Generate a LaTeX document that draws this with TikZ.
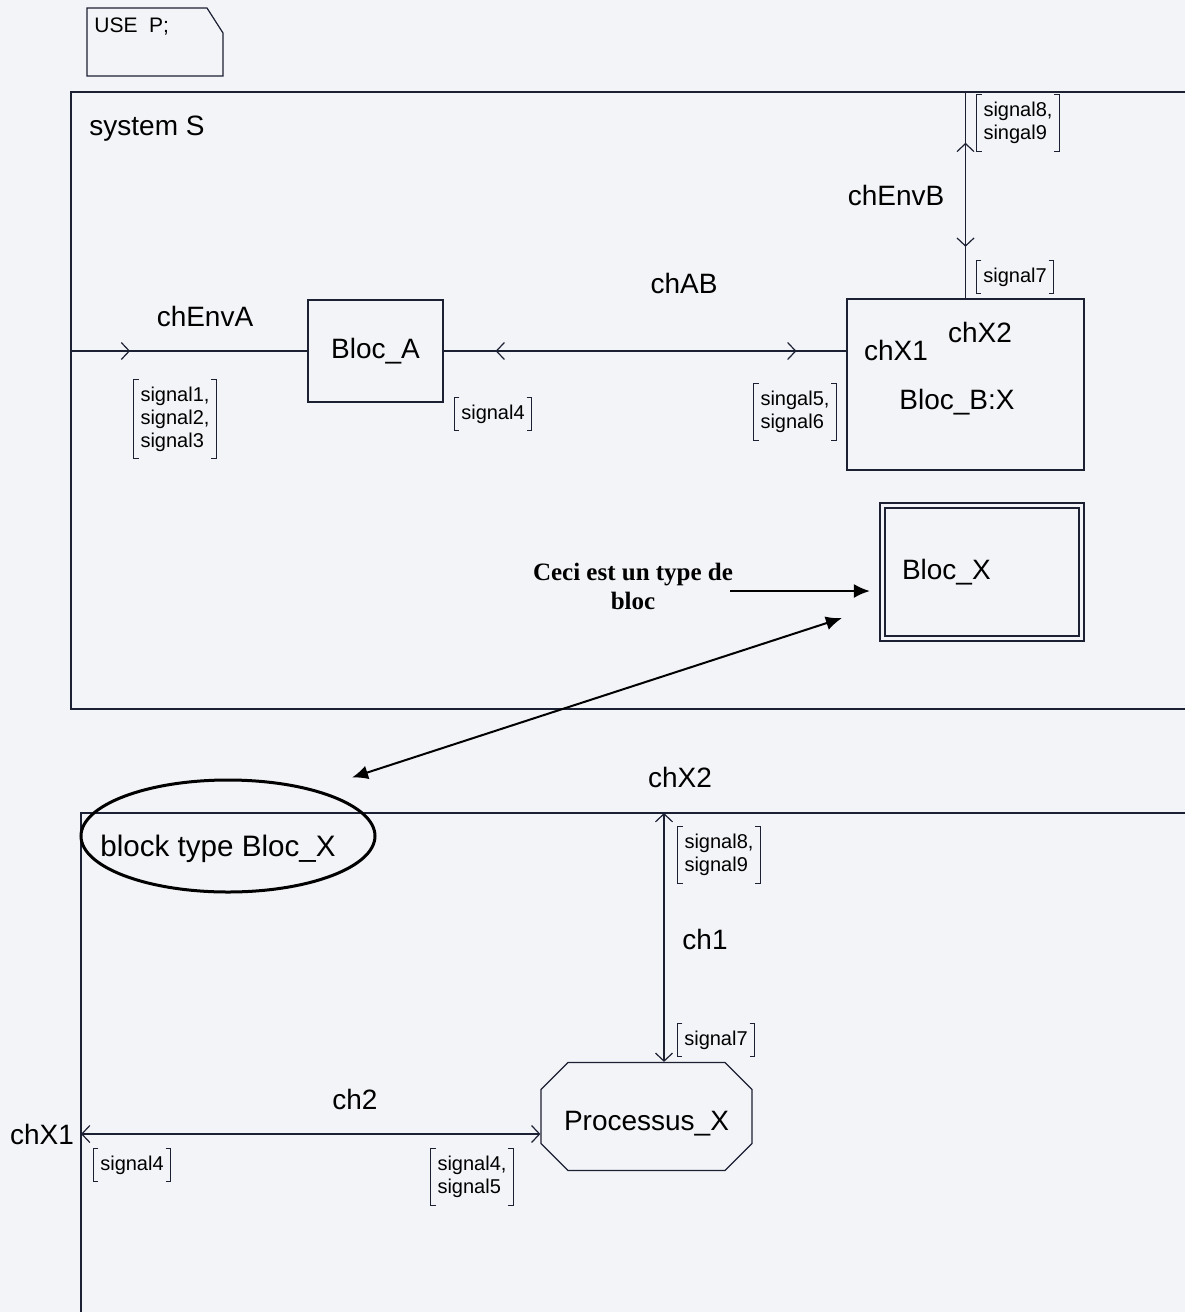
\documentclass[tikz,border=0pt]{standalone}
\usepackage{fontspec}
\setmainfont{Liberation Sans}
\newfontfamily\notefont{Liberation Serif}
\usetikzlibrary{arrows.meta,calc,positioning,shapes.geometric,shapes.misc,decorations.markings}
\definecolor{paperGray}{HTML}{F3F4F8}
\definecolor{inkBlue}  {HTML}{1C2033}
\tikzset{
  font=\fontsize{14}{16}\selectfont,
  sdlbarb/.tip={Straight Barb[length=4pt,width=8.5pt]},
  frame/.style={draw=inkBlue,line width=0.6pt},
  chan/.style={draw=inkBlue,line width=0.6pt},
  tipfwd/.style={postaction={decorate,decoration={markings,mark=at position #1 with {\arrow{sdlbarb}}}}},
  tipback/.style={postaction={decorate,decoration={markings,mark=at position #1 with {\arrowreversed{sdlbarb}}}}},
  bloc/.style={rectangle,draw=inkBlue,line width=0.6pt,inner sep=0pt,align=center},
  chlabel/.style={inner sep=1pt,font=\fontsize{14}{16}\selectfont},
  sigbox/.style={rectangle,inner xsep=4pt,inner ysep=4pt,align=left,
    font=\fontsize{10}{11.5}\selectfont,
    path picture={\draw[inkBlue,line width=0.5pt]
      ([shift={(3pt,-0.4pt)}]path picture bounding box.north west) -- ([shift={(0.4pt,-0.4pt)}]path picture bounding box.north west)
        -- ([shift={(0.4pt,0.4pt)}]path picture bounding box.south west) -- ([shift={(3pt,0.4pt)}]path picture bounding box.south west)
      ([shift={(-3pt,-0.4pt)}]path picture bounding box.north east) -- ([shift={(-0.4pt,-0.4pt)}]path picture bounding box.north east)
        -- ([shift={(-0.4pt,0.4pt)}]path picture bounding box.south east) -- ([shift={(-3pt,0.4pt)}]path picture bounding box.south east);}},
  thickarrow/.style={-{Latex[length=8pt,width=7pt]},draw=black,line width=1pt},
}

\begin{document}
\begin{tikzpicture}[x=0.5pt,y=-0.5pt]

\fill[paperGray] (0,0) rectangle (1185,1312);
\useasboundingbox (0,0) rectangle (1185,1312);

% text symbol
\draw[frame] (87,8) -- (207,8) -- (223,33) -- (223,76) -- (87,76) -- cycle;
\node[anchor=west,inner sep=0pt,font=\fontsize{10.5}{12}\selectfont] (useP) at (94,27) {USE~~P;};

% system S
\draw[frame] (1185,92) -- (71,92) -- (71,709) -- (1185,709);
\node[chlabel] (sysS) at (147,129) {system S};

\node[bloc,minimum width=67.5pt,minimum height=51pt] (blocA) at (375.5,351) {Bloc\_A};
\node[bloc,minimum width=118.5pt,minimum height=85.5pt] (blocB) at (965.5,384.5) {};
\node[chlabel] (bxX1) at (896,350) {chX1};
\node[chlabel] (bxX2) at (980,332) {chX2};
\node[chlabel] (bxName) at (957,402) {Bloc\_B:X};

\node[bloc,double=paperGray,double distance=1.9pt,minimum width=99.5pt,minimum height=66.5pt,
  text width=80pt,inner xsep=9.75pt,align=left] (blocX) at (982,572) {Bloc\_X};

\coordinate (envA) at (71,351);
\coordinate (envB) at (965.5,92);

\draw[chan,tipfwd=0.25] (envA) -- (blocA.west);
\draw[chan,tipback=0.129,tipfwd=0.876] (blocA.east) -- (blocA.east -| blocB.west);
\draw[chan,tipback=0.246,tipfwd=0.75] (envB) -- (blocB.north);

\node[chlabel] (chEnvA) at (205,316) {chEnvA};
\node[chlabel] (chAB) at (684,283) {chAB};
\node[chlabel] (chEnvB) at (896,195) {chEnvB};

\node[sigbox] (sigA) at (175,419) {signal1,\\signal2,\\signal3};
\node[sigbox] (sigAB1) at (493,414) {signal4};
\node[sigbox] (sigAB2) at (795,412) {singal5,\\signal6};
\node[sigbox] (sigB1) at (1018,123) {signal8,\\singal9};
\node[sigbox] (sigB2) at (1015,277) {signal7};

% block type Bloc_X
\draw[frame] (1185,813) -- (81,813) -- (81,1312);
\node[ellipse,draw=black,line width=1.5pt,inner sep=0pt,minimum width=147pt,minimum height=56pt] (typeX) at (228,836) {};
\node[chlabel,font=\fontsize{14.8}{17}\selectfont] (typeName) at (218,849) {block type Bloc\_X};

% annotation
\node[align=center,inner sep=0pt,font=\notefont\bfseries\fontsize{12.5}{14.5}\selectfont] (ceci) at (633,586) {Ceci est un type de\\bloc};
\coordinate (ceciTail) at (730,591);
\draw[thickarrow,shorten >=6pt] (ceciTail) -- (ceciTail -| blocX.west);
\draw[thickarrow,{Latex[length=8pt,width=7pt]}-{Latex[length=8pt,width=7pt]}]
  ([shift={(-20pt,10.5pt)}]blocX.south west) -- ([shift={(62pt,0.5pt)}]typeX.north);

\node[chamfered rectangle,draw=inkBlue,line width=0.6pt,chamfered rectangle xsep=6.5pt,
  chamfered rectangle ysep=7pt,minimum width=105.5pt,minimum height=54pt,inner sep=0pt,
  text height=17pt,text depth=3pt] (procX) at (646.5,1116.5) {Processus\_X};

\coordinate (c1top) at (664,813);
\coordinate (c2left) at (81,1134);
\draw[chan,{sdlbarb}-{sdlbarb}] (c1top) -- (c1top |- procX.north);
\draw[chan,{sdlbarb}-{sdlbarb}] (c2left) -- (c2left -| procX.west);

\node[chlabel] (chX2) at (680,777) {chX2};
\node[chlabel] (ch1) at (705,939) {ch1};
\node[chlabel] (ch2) at (355,1099) {ch2};
\node[chlabel] (chX1) at (42,1134) {chX1};

\node[sigbox] (sigC1) at (719,855) {signal8,\\signal9};
\node[sigbox] (sigC2) at (716,1040) {signal7};
\node[sigbox] (sigD1) at (132,1165) {signal4};
\node[sigbox] (sigD2) at (472,1177) {signal4,\\signal5};

\end{tikzpicture}
\end{document}
